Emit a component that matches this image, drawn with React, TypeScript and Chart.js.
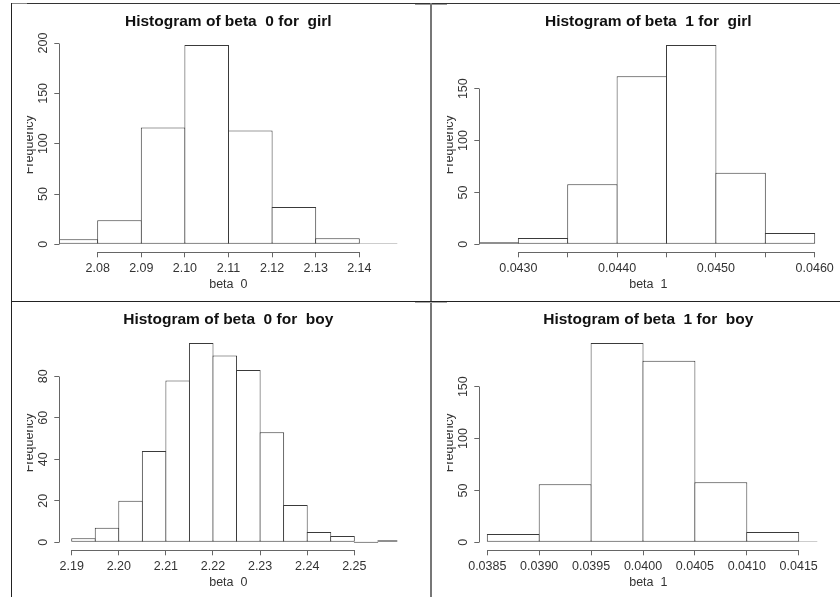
import React, { useEffect, useRef } from "react";
import { Chart, registerables } from "chart.js";

Chart.register(...registerables);

const FONT = '"Liberation Sans", Arial, Helvetica, sans-serif';
const TITLE_SIZE = 15.5;
const TEXT_SIZE = 12.5;
const AXIS_COLOR = "#666666";
const BAR_COLOR = "#3a3a3a";
const TEXT_COLOR = "#333333";

// ---- Panel 1: beta 0 for girl ----
const girlB0Breaks = [2.07, 2.08, 2.09, 2.1, 2.11, 2.12, 2.13, 2.14, 2.15];
const girlB0Counts = [5, 24, 116, 198, 113, 37, 6, 1];
const girlB0XTicks = [2.08, 2.09, 2.1, 2.11, 2.12, 2.13, 2.14];
const girlB0XLabels = ["2.08", "2.09", "2.10", "2.11", "2.12", "2.13", "2.14"];
const girlB0XRange = [2.071193, 2.148716];
const girlB0YTicks = [0, 50, 100, 150, 200];

// ---- Panel 2: beta 1 for girl ----
const girlB1Breaks = [0.0425, 0.043, 0.0435, 0.044, 0.0445, 0.045, 0.0455, 0.046];
const girlB1Counts = [2, 6, 58, 162, 192, 69, 11];
const girlB1XTicks = [0.043, 0.0435, 0.044, 0.0445, 0.045, 0.0455, 0.046];
const girlB1XLabels = ["0.0430", "", "0.0440", "", "0.0450", "", "0.0460"];
const girlB1XRange = [0.042605, 0.0460263];
const girlB1YTicks = [0, 50, 100, 150];

// ---- Panel 3: beta 0 for boy ----
const boyB0Breaks = [
  2.19, 2.195, 2.2, 2.205, 2.21, 2.215, 2.22, 2.225, 2.23, 2.235, 2.24, 2.245, 2.25, 2.255, 2.26,
];
const boyB0Counts = [2, 7, 20, 44, 78, 96, 90, 83, 53, 18, 5, 3, 0, 1];
const boyB0XTicks = [2.19, 2.2, 2.21, 2.22, 2.23, 2.24, 2.25];
const boyB0XLabels = ["2.19", "2.20", "2.21", "2.22", "2.23", "2.24", "2.25"];
const boyB0XRange = [2.187367, 2.25913];
const boyB0YTicks = [0, 20, 40, 60, 80];

// ---- Panel 4: beta 1 for boy ----
const boyB1Breaks = [0.0385, 0.039, 0.0395, 0.04, 0.0405, 0.041, 0.0415, 0.042];
const boyB1Counts = [8, 56, 192, 175, 58, 10, 1];
const boyB1XTicks = [0.0385, 0.039, 0.0395, 0.04, 0.0405, 0.041, 0.0415];
const boyB1XLabels = ["0.0385", "0.0390", "0.0395", "0.0400", "0.0405", "0.0410", "0.0415"];
const boyB1XRange = [0.0384229, 0.0416792];
const boyB1YTicks = [0, 50, 100, 150];

type Spec = {
  title: string;
  xLabel: string;
  breaks: number[];
  counts: number[];
  xTicks: number[];
  xLabels: string[];
  xRange: number[];
  yTicks: number[];
  ox: number;
  oy: number;
};

const specs: Spec[] = [
  {
    title: "Histogram of beta  0 for  girl",
    xLabel: "beta  0",
    breaks: girlB0Breaks,
    counts: girlB0Counts,
    xTicks: girlB0XTicks,
    xLabels: girlB0XLabels,
    xRange: girlB0XRange,
    yTicks: girlB0YTicks,
    ox: 0,
    oy: 0,
  },
  {
    title: "Histogram of beta  1 for  girl",
    xLabel: "beta  1",
    breaks: girlB1Breaks,
    counts: girlB1Counts,
    xTicks: girlB1XTicks,
    xLabels: girlB1XLabels,
    xRange: girlB1XRange,
    yTicks: girlB1YTicks,
    ox: 420,
    oy: 0,
  },
  {
    title: "Histogram of beta  0 for  boy",
    xLabel: "beta  0",
    breaks: boyB0Breaks,
    counts: boyB0Counts,
    xTicks: boyB0XTicks,
    xLabels: boyB0XLabels,
    xRange: boyB0XRange,
    yTicks: boyB0YTicks,
    ox: 0,
    oy: 298,
  },
  {
    title: "Histogram of beta  1 for  boy",
    xLabel: "beta  1",
    breaks: boyB1Breaks,
    counts: boyB1Counts,
    xTicks: boyB1XTicks,
    xLabels: boyB1XLabels,
    xRange: boyB1XRange,
    yTicks: boyB1YTicks,
    ox: 420,
    oy: 298,
  },
];

const alignPx = (p: number) => Math.round(p - 0.5) + 0.5;

function HistPanel({ spec }: { spec: Spec }) {
  const ref = useRef<HTMLCanvasElement>(null);

  useEffect(() => {
    const canvas = ref.current;
    if (!canvas) return;
    const maxCount = Math.max(...spec.counts);
    const data = spec.counts.map((c, i) => ({
      x: (spec.breaks[i] + spec.breaks[i + 1]) / 2,
      y: c,
    }));

    const meas = document.createElement("canvas").getContext("2d")!;
    meas.font = `${TEXT_SIZE}px ${FONT}`;
    const widest = Math.max(...spec.yTicks.map((v) => meas.measureText(String(v)).width));
    const yTickPad = 15.3 - 5 - widest / 2;

    // widen each bar by one pixel so neighbouring outlines share one line, as R's rect() does
    const barPct = (c: any) => {
      const xs = c.chart && c.chart.scales ? c.chart.scales.x : null;
      if (!xs || !xs.width) return 1;
      const px = Math.abs(xs.getPixelForValue(spec.breaks[1]) - xs.getPixelForValue(spec.breaks[0]));
      return px > 0 ? (px + 1) / px : 1;
    };

    const axisPlugin = {
      id: "rAxes",
      afterDraw(chart: any) {
        const { ctx, chartArea, scales } = chart;
        const xs = scales.x;
        const ys = scales.y;
        ctx.save();
        ctx.strokeStyle = AXIS_COLOR;
        ctx.lineWidth = 1;
        ctx.beginPath();
        const yb = alignPx(chartArea.bottom);
        ctx.moveTo(alignPx(xs.getPixelForValue(spec.xTicks[0])), yb);
        ctx.lineTo(alignPx(xs.getPixelForValue(spec.xTicks[spec.xTicks.length - 1])), yb);
        const xl = alignPx(chartArea.left);
        ctx.moveTo(xl, alignPx(ys.getPixelForValue(spec.yTicks[0])));
        ctx.lineTo(xl, alignPx(ys.getPixelForValue(spec.yTicks[spec.yTicks.length - 1])));
        ctx.stroke();
        ctx.restore();
      },
    };

    const chart = new Chart(canvas, {
      type: "bar",
      data: {
        datasets: [
          {
            data,
            backgroundColor: "#ffffff",
            borderColor: BAR_COLOR,
            borderWidth: 1,
            borderSkipped: false,
            barPercentage: barPct,
            categoryPercentage: 1,
            minBarLength: 1,
            clip: 0,
          } as any,
        ],
      },
      options: {
        animation: false,
        responsive: false,
        devicePixelRatio: 1,
        events: [],
        layout: { padding: { left: 19.3, right: 22.7, top: 0, bottom: 3.7 } },
        plugins: {
          legend: { display: false },
          tooltip: { enabled: false },
          title: {
            display: true,
            text: spec.title,
            fullSize: false,
            color: "#111111",
            font: { family: FONT, size: TITLE_SIZE, weight: "bold" },
            padding: { top: 12.4, bottom: 6.1 },
          },
        },
        scales: {
          x: {
            type: "linear",
            offset: false,
            min: spec.xRange[0],
            max: spec.xRange[1],
            afterBuildTicks: (s: any) => {
              s.ticks = spec.xTicks.map((v) => ({ value: v }));
            },
            afterFit: (s: any) => {
              s.height = 42;
            },
            grid: {
              display: true,
              offset: false,
              drawOnChartArea: false,
              drawTicks: true,
              tickLength: 5,
              color: AXIS_COLOR,
              lineWidth: 1,
            },
            border: { display: false },
            ticks: {
              autoSkip: false,
              maxRotation: 0,
              minRotation: 0,
              padding: 3.5,
              color: TEXT_COLOR,
              font: { family: FONT, size: TEXT_SIZE },
              callback: (_v: any, i: number) => spec.xLabels[i],
            },
            title: {
              display: true,
              text: spec.xLabel,
              color: TEXT_COLOR,
              font: { family: FONT, size: TEXT_SIZE },
              padding: { top: 0, bottom: 1.8 },
            },
          },
          y: {
            type: "linear",
            min: -0.04 * maxCount,
            max: 1.04 * maxCount,
            afterBuildTicks: (s: any) => {
              s.ticks = spec.yTicks.map((v) => ({ value: v }));
            },
            afterFit: (s: any) => {
              s.width = 40;
            },
            grid: {
              display: true,
              drawOnChartArea: false,
              drawTicks: true,
              tickLength: 5,
              color: AXIS_COLOR,
              lineWidth: 1,
            },
            border: { display: false },
            ticks: {
              minRotation: 90,
              maxRotation: 90,
              crossAlign: "center",
              padding: yTickPad,
              color: TEXT_COLOR,
              font: { family: FONT, size: TEXT_SIZE },
              callback: (_v: any, i: number) => String(spec.yTicks[i]),
            },
            title: {
              display: true,
              text: "Frequency",
              color: TEXT_COLOR,
              font: { family: FONT, size: TEXT_SIZE },
              padding: { top: 3.2, bottom: 0 },
            },
          },
        },
      } as any,
      plugins: [axisPlugin],
    });
    return () => chart.destroy();
  }, [spec]);

  const clipLeft = spec.ox + 27;
  const clipRight = spec.ox === 0 ? 430 : 840;
  const clipTop = spec.oy === 0 ? 5 : 302;
  const clipBottom = spec.oy === 0 ? 300 : 597;

  return (
    <div
      style={{
        position: "absolute",
        left: clipLeft,
        top: clipTop,
        width: clipRight - clipLeft,
        height: clipBottom - clipTop,
        overflow: "hidden",
      }}
    >
      <canvas
        ref={ref}
        width={420}
        height={298}
        style={{
          position: "absolute",
          left: spec.ox - clipLeft,
          top: spec.oy - clipTop,
          width: 420,
          height: 298,
          display: "block",
        }}
      />
    </div>
  );
}

export default function App() {
  const line = (l: number, t: number, w: number, h: number, c: string) => (
    <div style={{ position: "absolute", left: l, top: t, width: w, height: h, background: c }} />
  );
  return (
    <div
      style={{
        position: "fixed",
        left: 0,
        top: 0,
        width: 840,
        height: 597,
        background: "#ffffff",
        overflow: "hidden",
      }}
    >
      {specs.map((s, i) => (
        <HistPanel key={i} spec={s} />
      ))}
      {line(11, 3, 829, 1, "#333333")}
      {line(11, 3, 16, 1, "#888888")}
      {line(415, 4, 32, 1, "#999999")}
      {line(11, 3, 1, 594, "#222222")}
      {line(430, 3, 2, 594, "#777777")}
      {line(11, 301, 829, 1, "#222222")}
      {line(415, 302, 32, 1, "#aaaaaa")}
    </div>
  );
}
